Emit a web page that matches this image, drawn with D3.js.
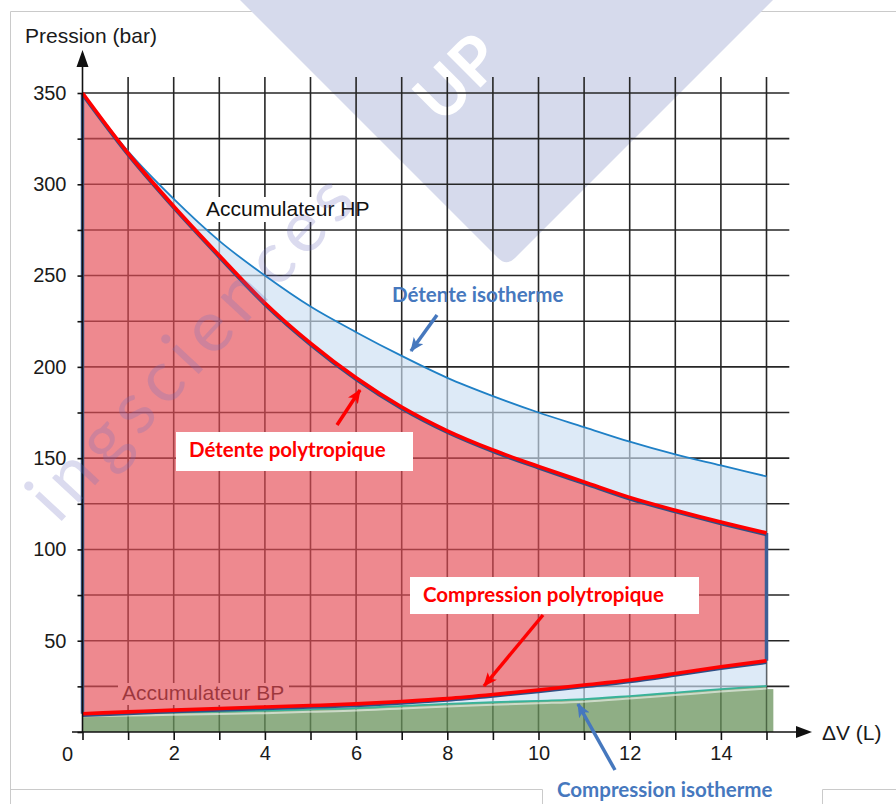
<!DOCTYPE html>
<html>
<head>
<meta charset="utf-8">
<script src="https://cdn.jsdelivr.net/npm/d3@7"></script>
<style>
  body { margin: 0; background: #fff; }
  svg { display: block; }
</style>
</head>
<body>
<svg id="chart" width="896" height="804"></svg>
<script>
// Volume restitué / absorbé (L)
const volumes = [0, 1, 2, 3, 4, 5, 6, 7, 8, 9, 10, 11, 12, 13, 14, 15];
// Pressions (bar) de chaque transformation
const detenteIsotherme      = [350, 318, 292, 269, 250, 233, 219, 206, 194, 184, 175, 167, 159, 152, 146, 140];
const detentePolytropique   = [350, 317, 288, 261, 235, 213, 194, 178, 165, 154.5, 145.5, 137, 128.5, 121.5, 115, 109];
const compressionPolytropique = [10, 11, 12, 12.9, 13.7, 14.5, 15.4, 16.7, 18.3, 20.5, 23, 25.7, 28.5, 32, 35.7, 39];
const compressionIsotherme  = [10, 10.4, 10.8, 11.2, 11.7, 12.4, 13.1, 14.3, 15.4, 16.3, 17.1, 18, 19.7, 21.6, 23.5, 25.2];
// Graduations
const pressureTicks = [50, 100, 150, 200, 250, 300, 350];
const volumeTicks = [2, 4, 6, 8, 10, 12, 14];

const svg = d3.select('#chart');
const x = d3.scaleLinear().domain([0, 15]).range([82.5, 766.5]);
const y = d3.scaleLinear().domain([0, 350]).range([732, 93]);

const axisFont = '"Liberation Sans", Arial, sans-serif';
const noteFont = 'Lato, "Open Sans", sans-serif';

// Cadre
const frame = svg.append('g').attr('fill', 'none').attr('stroke', '#cacaca').attr('stroke-width', 1);
frame.append('path').attr('d', 'M10.5,804 V11.5 H896');
frame.append('path').attr('d', 'M10.5,789.5 H542.5 V804 M822.5,804 V789.5 H896');

// Filigrane (bandeau)
svg.append('path')
  .attr('d', 'M225,-15 L498,258 Q506.5,266.5 515,258 L788,-15 Z')
  .attr('fill', '#d6daec');
svg.append('text').text('UP')
  .attr('transform', 'translate(442,126) rotate(-45)')
  .attr('font-family', noteFont).attr('font-weight', 700).attr('font-size', 66)
  .attr('fill', '#ffffff');

// Quadrillage
const grid = svg.append('g').attr('stroke', '#262626').attr('stroke-width', 1.6);
grid.selectAll('line.v').data(d3.range(1, 16)).join('line').attr('class', 'v')
  .attr('x1', d => x(d)).attr('x2', d => x(d))
  .attr('y1', y(358.7)).attr('y2', y(0));
grid.selectAll('line.h').data(d3.range(25, 351, 25)).join('line').attr('class', 'h')
  .attr('x1', x(0)).attr('x2', x(15.5))
  .attr('y1', d => y(d)).attr('y2', d => y(d));

// Étiquettes des accumulateurs (sur fond blanc)
svg.append('rect').attr('x', 204).attr('y', 197).attr('width', 148).attr('height', 25).attr('fill', '#fff');
svg.append('text').text('Accumulateur HP')
  .attr('x', 206).attr('y', 216)
  .attr('font-family', axisFont).attr('font-size', 21).attr('fill', '#111');
svg.append('rect').attr('x', 118).attr('y', 683).attr('width', 171).attr('height', 22).attr('fill', '#fff');
svg.append('text').text('Accumulateur BP')
  .attr('x', 122).attr('y', 700)
  .attr('font-family', axisFont).attr('font-size', 21).attr('fill', '#111');

const idx = volumes.map((_, i) => i);
const curve = d3.curveMonotoneX;

// Zone accumulateur BP (vert)
svg.append('path')
  .attr('d', d3.area().curve(curve).x(i => x(volumes[i])).y0(y(0)).y1(i => y(compressionIsotherme[i]))(idx))
  .attr('fill', '#6a935c').attr('fill-opacity', 0.75);
svg.append('rect')
  .attr('x', x(15)).attr('y', y(23.5)).attr('width', x(15.15) - x(15)).attr('height', y(0) - y(23.5))
  .attr('fill', '#6a935c').attr('fill-opacity', 0.75);

// Écarts isotherme / polytropique (bleu clair)
svg.append('path')
  .attr('d', d3.area().curve(curve).x(i => x(volumes[i]))
    .y0(i => y(detentePolytropique[i])).y1(i => y(detenteIsotherme[i]))(idx))
  .attr('fill', '#cbdff3').attr('fill-opacity', 0.66);
svg.append('path')
  .attr('d', d3.area().curve(curve).x(i => x(volumes[i]))
    .y0(i => y(compressionIsotherme[i])).y1(i => y(compressionPolytropique[i]))(idx))
  .attr('fill', '#cbdff3').attr('fill-opacity', 0.66);

// Cycle polytropique (rouge)
svg.append('path')
  .attr('d', d3.area().curve(curve).x(i => x(volumes[i]))
    .y0(i => y(compressionPolytropique[i])).y1(i => y(detentePolytropique[i]))(idx))
  .attr('fill', '#e54c55').attr('fill-opacity', 0.66);

const line = series => d3.line().curve(curve).x(i => x(volumes[i])).y(i => y(series[i]))(idx);

// Isothermes
svg.append('path').attr('d', line(compressionIsotherme))
  .attr('fill', 'none').attr('stroke', '#ffffff').attr('stroke-opacity', 0.55).attr('stroke-width', 2)
  .attr('transform', 'translate(0,2.5)');
svg.append('path').attr('d', line(compressionIsotherme))
  .attr('fill', 'none').attr('stroke', '#38b39a').attr('stroke-width', 1.8);
svg.append('path').attr('d', line(detenteIsotherme))
  .attr('fill', 'none').attr('stroke', '#1f80c6').attr('stroke-width', 1.8);

// Bords verticaux du cycle
const last = volumes.length - 1;
svg.append('g').attr('stroke', '#3d5f95').attr('stroke-width', 3.5)
  .selectAll('line').data([
    [volumes[0], detentePolytropique[0], compressionPolytropique[0]],
    [volumes[last], detentePolytropique[last], compressionPolytropique[last]]
  ]).join('line')
  .attr('x1', d => x(d[0])).attr('x2', d => x(d[0]))
  .attr('y1', d => y(d[1])).attr('y2', d => y(d[2]));

// Polytropiques
[detentePolytropique, compressionPolytropique].forEach(s => {
  svg.append('path').attr('d', line(s))
    .attr('fill', 'none').attr('stroke', '#2f4f86').attr('stroke-width', 3.5)
    .attr('transform', 'translate(0,1.5)');
  svg.append('path').attr('d', line(s))
    .attr('fill', 'none').attr('stroke', '#ff0000').attr('stroke-width', 3.6);
});

// Axes
const axes = svg.append('g').attr('stroke', '#111').attr('stroke-width', 1.6);
axes.append('line').attr('x1', x(0)).attr('x2', x(0)).attr('y1', y(0)).attr('y2', 64);
axes.append('line').attr('x1', 72).attr('x2', 798).attr('y1', y(0)).attr('y2', y(0));
svg.append('path').attr('d', `M${x(0)},50 L${x(0) + 6},67 L${x(0) - 6},67 Z`).attr('fill', '#111');
svg.append('path').attr('d', `M812,${y(0)} L796,${y(0) - 6} L796,${y(0) + 6} Z`).attr('fill', '#111');

const xAxis = svg.append('g').attr('transform', `translate(0,${y(0)})`)
  .call(d3.axisBottom(x).tickValues(volumes).tickSize(8).tickPadding(6)
    .tickFormat(d => volumeTicks.includes(d) ? d : ''));
const yAxis = svg.append('g').attr('transform', `translate(${x(0)},0)`)
  .call(d3.axisLeft(y).tickValues(d3.range(0, 351, 25)).tickSize(5).tickPadding(11)
    .tickFormat(d => pressureTicks.includes(d) ? d : ''));
[xAxis, yAxis].forEach(g => {
  g.select('.domain').remove();
  g.selectAll('.tick line').attr('stroke', '#111').attr('stroke-width', 1.6);
  g.selectAll('.tick text').attr('font-family', axisFont).attr('font-size', 20).attr('fill', '#1a1a1a');
});

svg.append('text').text('0').attr('x', 67.5).attr('y', 761).attr('text-anchor', 'middle')
  .attr('font-family', axisFont).attr('font-size', 20).attr('fill', '#1a1a1a');
svg.append('text').text('Pression (bar)').attr('x', 25).attr('y', 43)
  .attr('font-family', axisFont).attr('font-size', 21).attr('fill', '#1a1a1a');
svg.append('text').text('ΔV (L)').attr('x', 822).attr('y', 740)
  .attr('font-family', axisFont).attr('font-size', 21).attr('fill', '#1a1a1a');

// Annotations
const defs = svg.append('defs');
[['head-red', '#ff0000'], ['head-blue', '#4678be']].forEach(([id, c]) => {
  defs.append('marker').attr('id', id)
    .attr('viewBox', '0 0 14 12').attr('refX', 13).attr('refY', 6)
    .attr('markerWidth', 14).attr('markerHeight', 12)
    .attr('markerUnits', 'userSpaceOnUse').attr('orient', 'auto')
    .append('path').attr('d', 'M0,0 L14,6 L0,12 L3.5,6 Z').attr('fill', c);
});

const notes = [
  { text: 'Détente isotherme', color: '#4678be', tx: 392, ty: 302, box: null,
    arrow: [437, 315, 411, 351], head: 'head-blue' },
  { text: 'Détente polytropique', color: '#ff0000', tx: 189, ty: 457, box: [176, 432, 237, 39],
    arrow: [337, 425, 360, 390], head: 'head-red' },
  { text: 'Compression polytropique', color: '#ff0000', tx: 423, ty: 602, box: [410, 577, 289, 37],
    arrow: [543, 615, 484, 686], head: 'head-red' },
  { text: 'Compression isotherme', color: '#4678be', tx: 557, ty: 797, box: [543, 776, 279, 28],
    arrow: [615, 770, 578, 704], head: 'head-blue' }
];
notes.forEach(n => {
  if (n.box) {
    svg.append('rect').attr('x', n.box[0]).attr('y', n.box[1])
      .attr('width', n.box[2]).attr('height', n.box[3]).attr('fill', '#fff');
  }
  svg.append('text').text(n.text).attr('x', n.tx).attr('y', n.ty)
    .attr('font-family', noteFont).attr('font-weight', 700).attr('font-size', 20.5)
    .attr('fill', n.color);
  svg.append('line')
    .attr('x1', n.arrow[0]).attr('y1', n.arrow[1]).attr('x2', n.arrow[2]).attr('y2', n.arrow[3])
    .attr('stroke', n.color).attr('stroke-width', 3.5)
    .attr('marker-end', `url(#${n.head})`);
});

// Filigrane (texte)
svg.append('text').text('ingsciences')
  .attr('transform', 'translate(58,525) rotate(-47)')
  .attr('font-family', noteFont).attr('font-size', 72)
  .attr('textLength', 440).attr('lengthAdjust', 'spacing')
  .attr('fill', '#6e6ebe').attr('fill-opacity', 0.25);
</script>
</body>
</html>
